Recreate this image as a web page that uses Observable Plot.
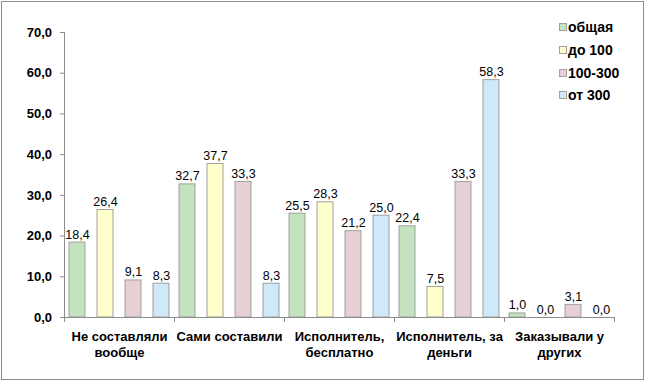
<!DOCTYPE html>
<html>
<head>
<meta charset="utf-8">
<script src="https://cdn.jsdelivr.net/npm/d3@7"></script>
<script src="https://cdn.jsdelivr.net/npm/@observablehq/plot@0.6"></script>
<style>
  body { margin: 0; background: #fff; }
  #wrap { position: relative; width: 645px; height: 381px; font-family: "Liberation Sans", Arial, sans-serif; }
  #border { position: absolute; left: 1px; top: 1px; width: 643px; height: 379px; box-sizing: border-box; border: 1px solid #8c8c8c; pointer-events: none; }
  #legend { position: absolute; left: 559px; top: 16px; font-weight: bold; font-size: 14px; color: #000; }
  #legend .item { display: flex; align-items: center; height: 22.7px; }
  #legend .sw { width: 8px; height: 8px; border: 1px solid #a0a0a0; margin-right: 1px; box-sizing: border-box; }
</style>
</head>
<body>
<div id="wrap">
  <div id="chart"></div>
  <div id="legend"></div>
  <div id="border"></div>
</div>
<script>
const categories = ["Не составляли\nвообще", "Сами составили", "Исполнитель,\nбесплатно", "Исполнитель, за\nденьги", "Заказывали у\nдругих"];
const series = ["общая", "до 100", "100-300", "от 300"];
const valuesTotal = [18.4, 32.7, 25.5, 22.4, 1.0];
const valuesUpTo100 = [26.4, 37.7, 28.3, 7.5, 0.0];
const values100to300 = [9.1, 33.3, 21.2, 33.3, 3.1];
const valuesFrom300 = [8.3, 8.3, 25.0, 58.3, 0.0];
const colors = ["#c3e3bf", "#ffffcc", "#e6d0d4", "#cfe9fa"];
const yTicks = [0, 10, 20, 30, 40, 50, 60, 70];

const seriesValues = [valuesTotal, valuesUpTo100, values100to300, valuesFrom300];
const data = [];
categories.forEach((c, i) => {
  series.forEach((s, j) => data.push({cat: c, series: s, value: seriesValues[j][i]}));
});
const fmt = v => v.toFixed(1).replace(".", ",");

const W = 645, H = 381, mT = 32, mB = 64, mL = 62, mR = 30;
const font = "Liberation Sans, Arial, sans-serif";

const chart = Plot.plot({
  width: W, height: H,
  marginTop: mT, marginBottom: mB, marginLeft: mL, marginRight: mR,
  style: {fontFamily: font, fontSize: "12px", color: "#000", background: "transparent"},
  fx: {domain: categories, padding: 0, label: null},
  x: {domain: series, paddingInner: 0.43, paddingOuter: 0.17, axis: null},
  y: {domain: [0, 70], label: null},
  color: {domain: series, range: colors},
  marks: [
    Plot.axisY({ticks: yTicks, tickSize: 4, tickPadding: 8.5, tickFormat: fmt, stroke: "#8c8c8c", fill: "#000", fontWeight: "bold", fontSize: 13, label: null}),
    Plot.axisFx({anchor: "bottom", tickSize: 0, tickPadding: 11, fontWeight: "bold", fontSize: 13, lineHeight: 1.3, label: null}),
    Plot.barY(data, {fx: "cat", x: "series", y: "value", fill: "series", stroke: "#a0a0a0", strokeWidth: 1}),
    Plot.text(data, {fx: "cat", x: "series", y: "value", text: d => fmt(d.value), lineAnchor: "bottom", dy: -4, fontSize: 12.5, fill: "#000"}),
    Plot.ruleY([0], {stroke: "#8c8c8c"}),
    Plot.frame({anchor: "left", fx: categories[0], stroke: "#8c8c8c"}),
    Plot.frame({anchor: "left", insetTop: H - mT - mB, insetBottom: -4, stroke: "#8c8c8c"}),
    Plot.frame({anchor: "right", insetTop: H - mT - mB, insetBottom: -4, stroke: "#8c8c8c"})
  ]
});
document.getElementById("chart").appendChild(chart);

const legend = document.getElementById("legend");
series.forEach((s, j) => {
  const item = document.createElement("div");
  item.className = "item";
  const sw = document.createElement("span");
  sw.className = "sw";
  sw.style.background = colors[j];
  const t = document.createElement("span");
  t.textContent = s;
  item.appendChild(sw);
  item.appendChild(t);
  legend.appendChild(item);
});
</script>
</body>
</html>
